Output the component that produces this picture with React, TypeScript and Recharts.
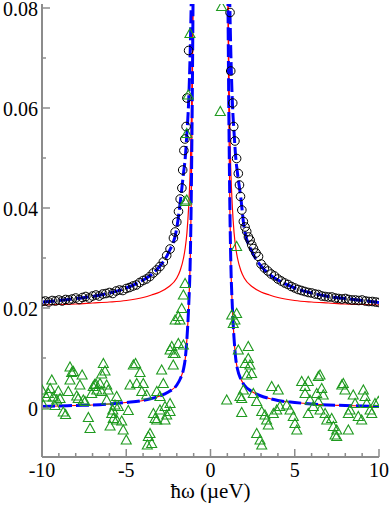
import React from 'react';
import { ComposedChart, Line, Scatter, XAxis, YAxis } from 'recharts';

// fitted curves (null = gap at the divergence)
const fitX = [-10, -9, -8, -7, -6, -5, -4, -3.5, -3, -2.5, -2, -1.8, -1.6, -1.5, -1.4, -1.3, -1.2, -1.15, -1.1, -1.05, -1.0,
  0,
  1.0, 1.05, 1.1, 1.15, 1.2, 1.3, 1.4, 1.5, 1.6, 1.8, 2, 2.5, 3, 3.5, 4, 5, 6, 7, 8, 9, 10];
const lowerFit = [0.0003, 0.0004, 0.0005, 0.0006, 0.0008, 0.0011, 0.0015, 0.0019, 0.0024, 0.0032, 0.0046, 0.0058, 0.0078, 0.0098, 0.0138, 0.02, 0.03, 0.04, 0.055, 0.075, 0.1,
  null,
  0.1, 0.075, 0.055, 0.04, 0.03, 0.02, 0.0138, 0.0098, 0.0078, 0.0058, 0.0046, 0.0032, 0.0024, 0.0019, 0.0015, 0.0011, 0.0008, 0.0006, 0.0005, 0.0004, 0.0003];
const upperRed = [0.0206, 0.0207, 0.0208, 0.021, 0.0212, 0.0215, 0.0221, 0.0226, 0.0232, 0.0242, 0.026, 0.0275, 0.03, 0.032, 0.035, 0.04, 0.048, 0.055, 0.065, 0.08, 0.1,
  null,
  0.1, 0.08, 0.065, 0.055, 0.048, 0.04, 0.035, 0.032, 0.03, 0.0275, 0.026, 0.0242, 0.0232, 0.0226, 0.0221, 0.0215, 0.0212, 0.021, 0.0208, 0.0207, 0.0206];
const upperBlue = [0.0212, 0.0215, 0.0219, 0.0223, 0.023, 0.024, 0.0256, 0.0267, 0.0284, 0.031, 0.036, 0.041, 0.047, 0.05, 0.055, 0.061, 0.072, 0.08, 0.09, 0.1, 0.11,
  null,
  0.11, 0.1, 0.09, 0.08, 0.072, 0.061, 0.055, 0.05, 0.047, 0.042, 0.036, 0.031, 0.0284, 0.0267, 0.0256, 0.024, 0.023, 0.0223, 0.0219, 0.0215, 0.0211];

// open circles (x, y)
const circles: [number, number][] = [
  [-10, 0.0213], [-9.8, 0.0214], [-9.6, 0.0212], [-9.4, 0.0215], [-9.2, 0.0214], [-9.0, 0.0216], [-8.8, 0.0214], [-8.6, 0.0217],
  [-8.4, 0.0216], [-8.2, 0.0218], [-8.0, 0.022], [-7.8, 0.0217], [-7.6, 0.0221], [-7.4, 0.0223], [-7.2, 0.022], [-7.0, 0.0224],
  [-6.8, 0.0226], [-6.6, 0.0224], [-6.4, 0.0228], [-6.2, 0.0229], [-6.0, 0.0231], [-5.8, 0.0229], [-5.6, 0.0234], [-5.4, 0.0236],
  [-5.2, 0.0235], [-5.0, 0.0239], [-4.8, 0.0241], [-4.6, 0.0244], [-4.4, 0.0246], [-4.2, 0.0251], [-4.0, 0.0255], [-3.8, 0.0258],
  [-3.6, 0.0263], [-3.4, 0.027], [-3.2, 0.0276], [-3.0, 0.0283], [-2.8, 0.0292], [-2.6, 0.0305], [-2.4, 0.0318], [-2.2, 0.034],
  [-2.1, 0.0352], [-2.0, 0.0372], [-1.9, 0.0393], [-1.8, 0.0418], [-1.7, 0.044], [-1.65, 0.0476], [-1.58, 0.0515], [-1.52, 0.0538],
  [-1.45, 0.0563], [-1.4, 0.062], [-1.3, 0.0715],
  [1.16, 0.0791], [1.2, 0.0674], [1.32, 0.061], [1.38, 0.0563], [1.45, 0.0534], [1.55, 0.0499], [1.65, 0.0469], [1.72, 0.0446],
  [1.78, 0.0423], [1.86, 0.0396], [1.95, 0.0373], [2.05, 0.0362], [2.15, 0.0353], [2.25, 0.0342], [2.35, 0.0336], [2.45, 0.0326],
  [2.55, 0.0319], [2.7, 0.031], [2.85, 0.0303], [3.0, 0.0288], [3.2, 0.028], [3.4, 0.0274], [3.6, 0.0268], [3.8, 0.0264],
  [4.0, 0.0258], [4.2, 0.0254], [4.4, 0.025], [4.6, 0.0247], [4.8, 0.0243], [5.0, 0.024], [5.2, 0.0237], [5.4, 0.0235],
  [5.6, 0.0233], [5.8, 0.0231], [6.0, 0.023], [6.2, 0.0228], [6.4, 0.0227], [6.6, 0.0224], [6.8, 0.0223], [7.0, 0.0222],
  [7.2, 0.0222], [7.4, 0.022], [7.6, 0.0219], [7.8, 0.0218], [8.0, 0.0219], [8.2, 0.0217], [8.4, 0.0216], [8.6, 0.0216],
  [8.8, 0.0215], [9.0, 0.0216], [9.2, 0.0214], [9.4, 0.0213], [9.6, 0.0213], [9.8, 0.0212], [10.0, 0.0211],
];

// open triangles (x, y)
const triangles: [number, number][] = [
  [-10.0, 0.0036], [-9.92, 0.0006], [-9.75, 0.0022], [-9.62, 0.0029], [-9.52, 0.0039], [-9.42, 0.0056], [-9.33, 0.0022], [-9.23, 0.0005],
  [-9.13, 0.0016], [-9.03, 0.0034], [-8.93, 0.0019], [-8.74, -0.0008], [-8.6, -0.0013], [-8.44, 0.0033], [-8.34, 0.0082], [-8.24, 0.0071],
  [-8.14, 0.0073], [-8.34, 0.0056], [-7.94, 0.0024], [-7.85, 0.0019], [-7.75, 0.0046], [-7.62, 0.0066], [-7.55, 0.0016], [-7.45, 0.0013],
  [-7.25, -0.0019], [-7.15, -0.0041], [-7.05, 0.0029], [-6.96, 0.0043], [-6.88, 0.0047], [-6.8, 0.0048], [-6.75, 0.0036], [-6.56, 0.0049],
  [-6.46, 0.0068], [-6.36, 0.0089], [-6.26, 0.0074], [-6.46, 0.0033], [-6.16, 0.0016], [-6.16, 0.0046], [-6.07, 0.0036], [-5.96, -0.0036],
  [-5.86, -0.0011], [-5.8, -0.0004], [-5.77, -0.0021], [-5.67, 0.0006], [-5.57, -0.0024], [-5.57, 0.0023], [-5.47, 0.0003], [-5.27, -0.0026],
  [-5.18, -0.0044], [-5.0, -0.0064], [-4.88, -0.0005], [-4.78, 0.0046], [-4.58, 0.0086], [-4.45, 0.0089], [-4.38, 0.0049], [-4.18, 0.0071],
  [-4.08, 0.0033], [-3.99, 0.0049], [-3.79, 0.0026], [-3.75, -0.0074], [-3.69, -0.0057], [-3.59, -0.0051], [-3.49, -0.0071], [-3.39, -0.0011],
  [-3.29, -0.0021], [-3.19, 0.0033], [-3.19, -0.0024], [-3.0, 0.0023], [-3.0, -0.0004], [-2.9, 0.0076], [-2.8, 0.0049], [-2.7, 0.0003],
  [-2.7, -0.0024], [-2.6, -0.0014], [-2.4, 0.0009], [-2.4, -0.0007], [-2.21, 0.0086], [-2.4, 0.0116], [-2.21, 0.0109], [-2.3, 0.0123],
  [-1.91, 0.0129], [-1.61, 0.0126], [-2.1, 0.0109], [-2.1, 0.0176], [-1.81, 0.0176], [-1.91, 0.0183], [-1.71, 0.0199], [-1.61, 0.0226],
  [-1.51, 0.0249], [-1.51, 0.0413], [-1.41, 0.0416], [-1.41, 0.0549], [-1.32, 0.0626], [-1.22, 0.0749],
  [0.66, 0.0803], [0.58, 0.0593], [0.96, 0.0016], [1.26, 0.0186], [1.35, 0.0169], [1.45, 0.0176], [1.55, 0.0189], [1.55, 0.0323],
  [1.65, 0.0116], [2.24, 0.0123], [2.24, 0.0099], [2.05, 0.0089], [2.34, 0.0086], [2.44, 0.0069], [2.15, 0.0066], [1.85, 0.0019],
  [1.85, -0.0009], [1.95, 0.0036], [1.75, 0.0023], [2.54, 0.0029], [2.74, 0.0013], [3.04, -0.0007], [3.23, -0.0014], [3.33, -0.0024],
  [3.43, -0.0034], [2.74, -0.0051], [2.94, -0.0064], [3.04, -0.0074], [3.63, 0.0043], [4.02, 0.0036], [3.73, -0.0011], [3.93, -0.0004],
  [4.12, 0.0003], [4.52, 0.0006], [4.72, -0.0004], [4.91, -0.0017], [5.01, -0.0031], [5.12, -0.0044], [5.41, 0.0053], [5.61, 0.0043],
  [5.8, 0.0053], [5.61, 0.0029], [5.9, 0.0016], [6.1, 0.0003], [5.8, -0.0011], [6.4, 0.0063], [6.5, 0.0066], [6.6, 0.0039],
  [6.69, 0.0026], [6.3, 0.0029], [6.4, 0.0013], [6.5, -0.0004], [6.8, -0.0011], [6.9, -0.0024], [7.19, -0.0021], [7.29, -0.0037],
  [7.49, -0.0044], [7.39, -0.0054], [7.49, -0.0057], [7.79, 0.0046], [7.88, 0.0049], [7.98, 0.0036], [8.18, -0.0011], [8.28, -0.0004],
  [8.47, 0.0026], [8.58, 0.0009], [8.77, -0.0017], [8.97, -0.0024], [8.18, -0.0044], [9.07, 0.0036], [9.17, 0.0023], [9.27, 0.0009],
  [9.47, -0.0004], [9.57, -0.0011], [9.76, 0.0009], [9.96, 0.0013],
];

const xTicks = [-10, -9, -8, -7, -6, -5, -4, -3, -2, -1, 0, 1, 2, 3, 4, 5, 6, 7, 8, 9, 10];
const yTicks = [0, 0.01, 0.02, 0.03, 0.04, 0.05, 0.06, 0.07, 0.08];

const FRAME = '#8c8c8c';
const textStyle: React.CSSProperties = { fontFamily: "'Liberation Serif', 'Times New Roman', serif", fontSize: 20 };

const toRows = (ys: (number | null)[]) => fitX.map((x, i) => ({ x, y: ys[i] }));
const lowerData = toRows(lowerFit);
const redData = toRows(upperRed);
const blueData = toRows(upperBlue);
const circleData = circles.map(([x, y]) => ({ x, y }));
const triangleData = triangles.map(([x, y]) => ({ x, y }));

const isMajorX = (v: number) => v % 5 === 0;
const isMajorY = (v: number) => Math.round(v * 100) % 2 === 0;

const BottomTick = ({ x, y, payload }: any) => {
  const major = isMajorX(payload.value);
  return (
    <g>
      <line x1={x} x2={x} y1={y} y2={y - (major ? 8 : 4)} stroke={FRAME} strokeWidth={1.5} />
      {major && (
        <text x={x} y={y + 20} textAnchor="middle" style={textStyle} fill="#000">
          {payload.value}
        </text>
      )}
    </g>
  );
};

const TopTick = ({ x, y, payload }: any) => {
  const major = isMajorX(payload.value);
  return <line x1={x} x2={x} y1={y} y2={y + (major ? 8 : 4)} stroke={FRAME} strokeWidth={1.5} />;
};

const LeftTick = ({ x, y, payload }: any) => {
  const v = payload.value;
  const major = isMajorY(v);
  return (
    <g>
      <line x1={x} x2={x + (major ? 8 : 4)} y1={y} y2={y} stroke={FRAME} strokeWidth={1.5} />
      {major && (
        <text x={x - 4} y={y + 8} textAnchor="end" style={textStyle} fill="#000">
          {v === 0 ? '0' : v.toFixed(2)}
        </text>
      )}
    </g>
  );
};

const RightTick = ({ x, y, payload }: any) => {
  const major = isMajorY(payload.value);
  return <line x1={x} x2={x - (major ? 8 : 4)} y1={y} y2={y} stroke={FRAME} strokeWidth={1.5} />;
};

const AxisTitle = ({ viewBox }: any) => (
  <text x={viewBox.x + viewBox.width / 2} y={498} textAnchor="middle" style={{ ...textStyle, fontSize: 21 }} fill="#000">
    ħω (µeV)
  </text>
);

const Circle = (props: any) => (
  <circle cx={props.cx} cy={props.cy} r={4.3} fill="none" stroke="#000" strokeWidth={1} />
);

const Triangle = (props: any) => {
  const { cx, cy } = props;
  return (
    <polygon
      points={`${cx},${cy - 5} ${cx - 5},${cy + 4} ${cx + 5},${cy + 4}`}
      fill="none"
      stroke="#1f9a1f"
      strokeWidth={1.1}
    />
  );
};

const App: React.FC = () => {
  return (
    <div style={{ position: 'absolute', left: 0, top: 0, background: '#fff' }}>
      <ComposedChart width={391} height={505} margin={{ top: 4, right: 12, left: 0, bottom: 0 }}>
        <XAxis
          dataKey="x"
          type="number"
          domain={[-10, 10]}
          ticks={xTicks}
          interval={0}
          allowDataOverflow
          height={48}
          tickSize={0}
          tickMargin={0}
          tickLine={false}
          axisLine={{ stroke: FRAME, strokeWidth: 2 }}
          tick={<BottomTick />}
          label={<AxisTitle />}
        />
        <XAxis
          xAxisId="top"
          orientation="top"
          type="number"
          domain={[-10, 10]}
          ticks={xTicks}
          interval={0}
          height={0}
          tickSize={0}
          tickMargin={0}
          tickLine={false}
          axisLine={{ stroke: FRAME, strokeWidth: 2 }}
          tick={<TopTick />}
        />
        <YAxis
          dataKey="y"
          type="number"
          domain={[-0.0098, 0.0808]}
          ticks={yTicks}
          interval={0}
          allowDataOverflow
          width={42}
          tickSize={0}
          tickMargin={0}
          tickLine={false}
          axisLine={{ stroke: FRAME, strokeWidth: 2 }}
          tick={<LeftTick />}
        />
        <YAxis
          yAxisId="right"
          orientation="right"
          type="number"
          domain={[-0.0098, 0.0808]}
          ticks={yTicks}
          interval={0}
          width={0}
          tickSize={0}
          tickMargin={0}
          tickLine={false}
          axisLine={{ stroke: FRAME, strokeWidth: 2 }}
          tick={<RightTick />}
        />
        <Scatter data={circleData} shape={Circle} isAnimationActive={false} />
        <Line data={redData} dataKey="y" type="monotone" stroke="#ff0000" strokeWidth={1.2} dot={false} isAnimationActive={false} />
        <Line data={lowerData} dataKey="y" type="monotone" stroke="#ff0000" strokeWidth={1.2} dot={false} isAnimationActive={false} />
        <Line data={blueData} dataKey="y" type="monotone" stroke="#0000ff" strokeWidth={3} strokeDasharray="13 4" dot={false} isAnimationActive={false} />
        <Line data={lowerData} dataKey="y" type="monotone" stroke="#0000ff" strokeWidth={3} strokeDasharray="13 4" dot={false} isAnimationActive={false} />
        <Scatter data={triangleData} shape={Triangle} isAnimationActive={false} />
      </ComposedChart>
    </div>
  );
};

export default App;
